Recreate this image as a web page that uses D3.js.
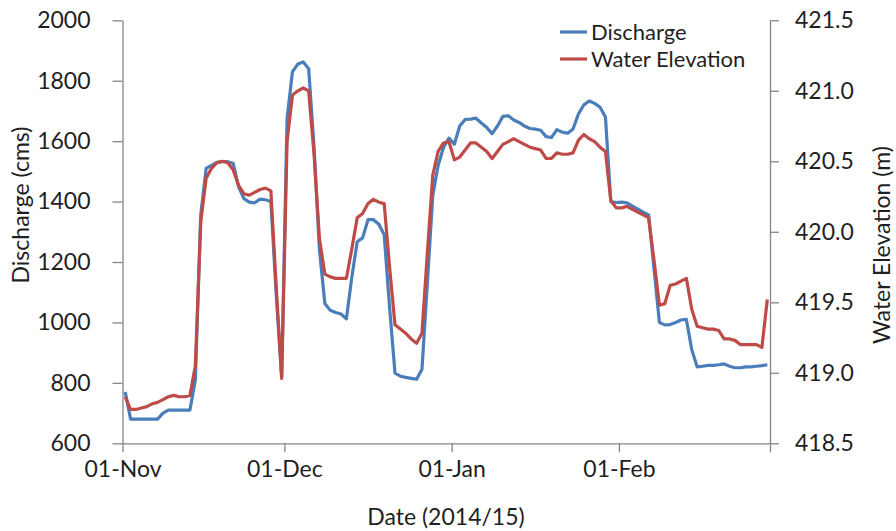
<!DOCTYPE html>
<html><head><meta charset="utf-8">
<script src="https://cdn.jsdelivr.net/npm/d3@7"></script>
<style>
body{margin:0;background:#fff}
svg{display:block}
text{font-family:Lato, "Open Sans", sans-serif;fill:#1f1f1f}
</style>
</head><body>
<svg id="chart" width="896" height="531"></svg>
<script>
// ---------- data ----------
const startDate = "2014-11-01";
const endDate = "2015-03-01";
const xTickDates = ["2014-11-01", "2014-12-01", "2015-01-01", "2015-02-01", "2015-03-01"];
const xTickLabels = ["01-Nov", "01-Dec", "01-Jan", "01-Feb", ""];
const dischargeTicks = [600, 800, 1000, 1200, 1400, 1600, 1800, 2000];
const elevationTicks = [418.5, 419.0, 419.5, 420.0, 420.5, 421.0, 421.5];
const seriesNames = ["Discharge", "Water Elevation"];

// daily values, 01-Nov-2014 .. 28-Feb-2015
const discharge = [
  770, 680, 680, 680, 680, 680, 680, 700, 710, 710,
  710, 710, 710, 810, 1355, 1510, 1520, 1530, 1532, 1532,
  1527, 1450, 1410, 1398, 1396, 1408, 1406, 1400, 1090, 820,
  1675, 1830, 1855, 1862, 1840, 1580, 1240, 1063, 1040, 1033,
  1028, 1012, 1150, 1267, 1280, 1340, 1340, 1325, 1290, 1050,
  832, 822, 818, 815, 812, 845, 1130, 1420, 1520, 1580,
  1610, 1590, 1650, 1672, 1673, 1676, 1660, 1645, 1625, 1650,
  1682, 1684, 1670, 1662, 1650, 1642, 1640, 1636, 1615, 1612,
  1638, 1630, 1626, 1640, 1690, 1720, 1733, 1725, 1712, 1680,
  1400, 1397, 1398, 1396, 1385, 1375, 1365, 1356, 1180, 1000,
  992, 993, 1000, 1008, 1010, 910, 853, 855, 858, 858,
  860, 863, 855, 850, 850, 853, 853, 855, 857, 860
];
const elevation = [
  418.83, 418.74, 418.74, 418.75, 418.76, 418.78, 418.79, 418.81, 418.83, 418.84,
  418.83, 418.83, 418.84, 419.05, 420.07, 420.38, 420.45, 420.49, 420.50, 420.49,
  420.44, 420.33, 420.27, 420.26, 420.28, 420.30, 420.31, 420.29, 419.60, 418.96,
  420.64, 420.97, 421.00, 421.02, 421.00, 420.55, 419.95, 419.70, 419.68, 419.67,
  419.67, 419.67, 419.88, 420.10, 420.13, 420.20, 420.23, 420.21, 420.20, 419.75,
  419.34, 419.31, 419.28, 419.24, 419.21, 419.28, 419.85, 420.40, 420.57, 420.63,
  420.64, 420.51, 420.53, 420.58, 420.63, 420.63, 420.60, 420.57, 420.52, 420.57,
  420.62, 420.64, 420.66, 420.64, 420.62, 420.60, 420.59, 420.58, 420.52, 420.52,
  420.56, 420.55, 420.55, 420.56, 420.65, 420.69, 420.66, 420.64, 420.60, 420.57,
  420.22, 420.17, 420.17, 420.18, 420.16, 420.14, 420.12, 420.10, 419.80, 419.48,
  419.49, 419.62, 419.63, 419.65, 419.67, 419.45, 419.33, 419.32, 419.31, 419.31,
  419.30, 419.24, 419.24, 419.23, 419.20, 419.20, 419.20, 419.20, 419.18, 419.52
];

// ---------- layout ----------
const W = 896, H = 531;
const plot = {left: 122.5, right: 770, top: 20.3, bottom: 443.3};
const colors = {discharge: "#4a7ebb", elevation: "#be4b48", axis: "#868686"};
const fontSize = 23;
const legendFontSize = 22;

const parse = d3.utcParse("%Y-%m-%d");
const start = parse(startDate), end = parse(endDate);
const days = d3.utcDay.range(start, end);
// points plotted at the middle of each day's slot (Excel date axis style)
const xPos = d => d3.utcHour.offset(d, 12);

const x = d3.scaleUtc().domain([start, end]).range([plot.left, plot.right]);
const yQ = d3.scaleLinear().domain([600, 2000]).range([plot.bottom, plot.top]);
const yE = d3.scaleLinear().domain([418.5, 421.5]).range([plot.bottom, plot.top]);

const svg = d3.select("#chart");
svg.append("rect").attr("width", W).attr("height", H).attr("fill", "#fff");

// axes
const xAxis = d3.axisBottom(x)
  .tickValues(xTickDates.map(parse))
  .tickFormat((d, i) => xTickLabels[i])
  .tickSizeInner(9).tickSizeOuter(0).tickPadding(8);
const gx = svg.append("g").attr("transform", `translate(0,${plot.bottom})`).call(xAxis);

const leftAxis = d3.axisLeft(yQ).tickValues(dischargeTicks).tickFormat(d3.format("d"))
  .tickSizeInner(10).tickSizeOuter(0).tickPadding(22);
const gl = svg.append("g").attr("transform", `translate(${plot.left},0)`).call(leftAxis);

const rightAxis = d3.axisRight(yE).tickValues(elevationTicks).tickFormat(d3.format(".1f"))
  .tickSizeInner(9).tickSizeOuter(0).tickPadding(16);
const gr = svg.append("g").attr("transform", `translate(${plot.right},0)`).call(rightAxis);

[gx, gl, gr].forEach(g => {
  g.selectAll("path.domain").attr("stroke", colors.axis).attr("stroke-width", 1.3);
  g.selectAll(".tick line").attr("stroke", colors.axis).attr("stroke-width", 1.3);
  g.selectAll(".tick text").attr("font-size", fontSize).attr("fill", "#1f1f1f")
    .style("font-family", "Lato, 'Open Sans', sans-serif");
});

// lines
const lineQ = d3.line().x((d, i) => x(xPos(days[i]))).y(d => yQ(d));
const lineE = d3.line().x((d, i) => x(xPos(days[i]))).y(d => yE(d));

svg.append("path").datum(discharge).attr("d", lineQ)
  .attr("fill", "none").attr("stroke", colors.discharge).attr("stroke-width", 3.2)
  .attr("stroke-linejoin", "round");
svg.append("path").datum(elevation).attr("d", lineE)
  .attr("fill", "none").attr("stroke", colors.elevation).attr("stroke-width", 3.2)
  .attr("stroke-linejoin", "round");

// axis titles
svg.append("text").attr("transform", `translate(29,205) rotate(-90)`)
  .attr("text-anchor", "middle").attr("font-size", fontSize).text("Discharge (cms)");
svg.append("text").attr("transform", `translate(890,245) rotate(-90)`)
  .attr("text-anchor", "middle").attr("font-size", fontSize).text("Water Elevation (m)");
svg.append("text").attr("x", 446).attr("y", 525)
  .attr("text-anchor", "middle").attr("font-size", fontSize).text("Date (2014/15)");

// legend
const legend = svg.append("g");
const legendItems = [
  {name: seriesNames[0], color: colors.discharge, y: 32},
  {name: seriesNames[1], color: colors.elevation, y: 59}
];
legendItems.forEach(it => {
  legend.append("line").attr("x1", 560).attr("x2", 587).attr("y1", it.y).attr("y2", it.y)
    .attr("stroke", it.color).attr("stroke-width", 3.2);
  legend.append("text").attr("x", 591).attr("y", it.y).attr("dy", "0.35em")
    .attr("font-size", legendFontSize).text(it.name);
});
</script>
</body></html>
